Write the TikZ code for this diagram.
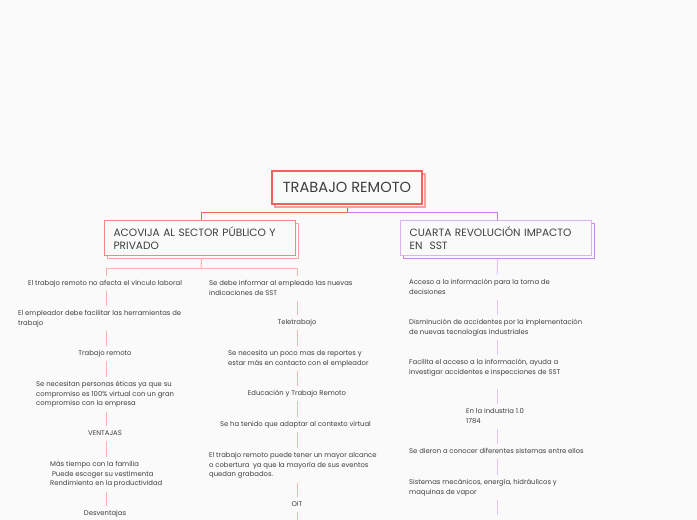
\documentclass[tikz,border=0pt]{standalone}
\usepackage{fontspec}
\setmainfont{Poppins}
\usetikzlibrary{shadows}
\definecolor{bg}{HTML}{FAFAFA}
\definecolor{cMain}{HTML}{F0625B}
\definecolor{cMainS}{HTML}{F8A29D}
\definecolor{cLbox}{HTML}{F4877F}
\definecolor{cLboxS}{HTML}{F7A8A3}
\definecolor{cLline}{HTML}{F7B4AF}
\definecolor{cPur}{HTML}{C47DE3}
\definecolor{cRbox}{HTML}{DDB2F0}
\definecolor{cRboxS}{HTML}{C98AE6}
\definecolor{cRline}{HTML}{E4C3F3}
\definecolor{txt}{HTML}{3E3E3E}
\newcommand\bodyfont{\fontsize{6.85}{9.6}\selectfont}
\newcommand\mystrut{\rule[-2pt]{0pt}{8pt}}
\tikzset{
  mainbox/.style={draw=cMain, fill=bg, line width=1.3pt, inner sep=0pt,
    minimum width=150pt, minimum height=33pt, text=txt,
    font=\fontsize{14.6}{16}\selectfont,
    copy shadow={shadow xshift=3pt, shadow yshift=-3pt, draw=cMainS, fill=bg, line width=1.3pt}},
  subbox/.style={fill=bg, line width=1.2pt, inner ysep=0pt, inner xsep=9pt,
    text width=173pt, minimum height=35pt, align=left, anchor=north west, text=txt,
    font=\fontsize{10.6}{12.7}\selectfont},
  lboxst/.style={subbox, draw=cLbox,
    copy shadow={shadow xshift=3pt, shadow yshift=-3pt, draw=cLboxS, fill=bg, line width=1.2pt}},
  rboxst/.style={subbox, draw=cRbox,
    copy shadow={shadow xshift=3pt, shadow yshift=-3pt, draw=cRboxS, fill=bg, line width=1.2pt}},
  txl/.style={inner sep=0pt, font=\bodyfont, text=txt, align=left, anchor=north west},
  txc/.style={inner sep=0pt, font=\bodyfont, text=txt, align=center, anchor=north},
  conMain/.style={draw=cMain, line width=1pt},
  conPur/.style={draw=cPur, line width=1pt},
  lline/.style={draw=cLline, line width=1pt, shorten <=3.5pt, shorten >=3.5pt},
  rline/.style={draw=cRline, line width=1pt, shorten <=3.5pt, shorten >=3.5pt},
}
\begin{document}
\begin{tikzpicture}[x=1pt,y=-1pt]
\useasboundingbox[fill=bg] (0,0) rectangle (697,520);
\coordinate (colL) at (106,0);
\coordinate (colM) at (297,0);
\coordinate (colR) at (497,0);

% main and branch boxes
\node[mainbox] (main) at (347,187.5) {TRABAJO REMOTO};
\node[lboxst] (lbox) at (104,220) {ACOVIJA AL SECTOR PÚBLICO Y\\PRIVADO};
\node[rboxst] (rbox) at (400,220) {CUARTA REVOLUCIÓN IMPACTO\\EN\ \ SST};

% left column
\node[txc] (L1) at (105,279.5) {\mystrut El trabajo remoto no afecta el vínculo laboral\mystrut};
\node[txl] (L2) at (18,309.5) {\mystrut El empleador debe facilitar las herramientas de\\trabajo\mystrut};
\node[txc] (L3) at (105,349.5) {\mystrut Trabajo remoto\mystrut};
\node[txl] (L4) at (36,380.5) {\mystrut Se necesitan personas éticas ya que su\\compromiso es 100\% virtual con un gran\\compromiso con la empresa\mystrut};
\node[txc] (L5) at (105,429.5) {\mystrut VENTAJAS\mystrut};
\node[txl] (L6) at (50,460.5) {\mystrut Más tiempo con la familia\\\ Puede escoger su vestimenta\\Rendimiento en la productividad\mystrut};
\node[txc] (L7) at (105,509.5) {\mystrut Desventajas\mystrut};

% middle column
\node[txl] (M1) at (209,279.5) {\mystrut Se debe informar al empleado las nuevas\\indicaciones de SST\mystrut};
\node[txc] (M2) at (297,318.5) {\mystrut Teletrabajo\mystrut};
\node[txl] (M3) at (228,349.5) {\mystrut Se necesita un poco mas de reportes y\\estar más en contacto con el empleador\mystrut};
\node[txc] (M4) at (297,389.5) {\mystrut Educación y Trabajo Remoto\mystrut};
\node[txc] (M5) at (295.5,420.5) {\mystrut Se ha tenido que adaptar al contexto virtual\mystrut};
\node[txl] (M6) at (209,451.5) {\mystrut El trabajo remoto puede tener un mayor alcance\\o cobertura\ \ ya que la mayoría de sus eventos\\quedan grabados.\mystrut};
\node[txc] (M7) at (297,500.5) {\mystrut OIT\mystrut};
\coordinate (Mend) at (297,524);

% right column
\node[txl] (R1) at (409,278.5) {\mystrut Acceso a la información para la toma de\\decisiones\mystrut};
\node[txl] (R2) at (409,318.5) {\mystrut Disminución de accidentes por la implementación\\de nuevas tecnologías industriales\mystrut};
\node[txl] (R3) at (409,358.5) {\mystrut Facilita el acceso a la información, ayuda a\\investigar accidentes e inspecciones de SST\mystrut};
\node[txl] (R4) at (466,407.5) {\mystrut En la industria 1.0\\1784\mystrut};
\node[txl] (R5) at (409,447.5) {\mystrut Se dieron a conocer diferentes sistemas entre ellos\mystrut};
\node[txl] (R6) at (409,478.5) {\mystrut Sistemas mecánicos, energía, hidráulicos y\\maquinas de vapor\mystrut};
\coordinate (Rend) at (497,515);

% connectors from main
\coordinate (j0) at (347,212);
\draw[conMain] ([yshift=-3pt]main.south) -- (j0) -| ([xshift=1.5pt]lbox.north);
\draw[conPur] (j0) -| ([xshift=1.5pt]rbox.north);

% left branch
\coordinate (j1) at (201,268);
\draw[draw=cLline, line width=1pt] ([xshift=1.5pt,yshift=-3pt]lbox.south) -- (j1);
\draw[lline, shorten <=0pt] (j1) -| (L1.north -| colL);
\draw[lline, shorten <=0pt] (j1) -| (M1.north -| colM);
\draw[lline] (L1.south -| colL) -- (L2.north -| colL);
\draw[lline] (L2.south -| colL) -- (L3.north -| colL);
\draw[lline] (L3.south -| colL) -- (L4.north -| colL);
\draw[lline] (L4.south -| colL) -- (L5.north -| colL);
\draw[lline] (L5.south -| colL) -- (L6.north -| colL);
\draw[lline] (L6.south -| colL) -- (L7.north -| colL);
\draw[lline] (M1.south -| colM) -- (M2.north -| colM);
\draw[lline] (M2.south -| colM) -- (M3.north -| colM);
\draw[lline] (M3.south -| colM) -- (M4.north -| colM);
\draw[lline] (M4.south -| colM) -- (M5.north -| colM);
\draw[lline] (M5.south -| colM) -- (M6.north -| colM);
\draw[lline] (M6.south -| colM) -- (M7.north -| colM);
\draw[lline, shorten >=0pt] (M7.south -| colM) -- (Mend);

% right branch
\draw[rline, shorten <=0pt] ([xshift=1.5pt,yshift=-3pt]rbox.south) -- (R1.north -| colR);
\draw[rline] (R1.south -| colR) -- (R2.north -| colR);
\draw[rline] (R2.south -| colR) -- (R3.north -| colR);
\draw[rline, shorten <=12pt] (R3.south -| colR) -- (R4.north -| colR);
\draw[rline] (R4.south -| colR) -- (R5.north -| colR);
\draw[rline] (R5.south -| colR) -- (R6.north -| colR);
\draw[rline, shorten >=0pt] (R6.south -| colR) -- (Rend);
\end{tikzpicture}
\end{document}
